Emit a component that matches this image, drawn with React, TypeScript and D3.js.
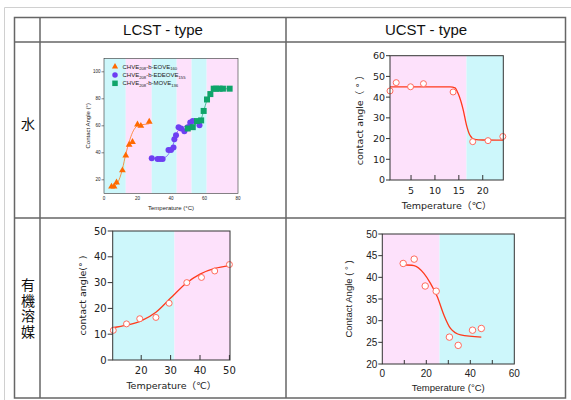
import React from "react";
import * as d3 from "d3";

const CYAN = "#cdf7fb";
const PINK = "#fde1fb";

// 水 / LCST - type
const eoveTemp = [4.5, 6, 7.5, 11, 13, 15, 17, 20, 22, 27];
const eoveAngle = [15, 15, 18, 27, 38, 46, 48, 61, 60, 63];
const eoveFitTemp = [4, 7, 9, 11, 13, 15, 17, 19, 21, 24, 27];
const eoveFitAngle = [14.5, 16, 20, 28, 39, 48, 55, 59, 60.5, 61, 61.5];
const edeoveTemp = [28.5, 32, 33.5, 35, 38.5, 40, 41.5, 42, 43, 44.5, 46, 48, 50, 51.5, 53, 57];
const edeoveAngle = [36, 35.5, 35.5, 35.5, 42, 42, 44, 50, 53, 59, 58, 56, 59, 62.5, 63.5, 60.5];
const edeoveFitTemp = [28.5, 34, 37, 39, 41, 42.5, 44, 46, 49, 52, 55];
const edeoveFitAngle = [36, 36, 37, 40, 45, 51, 56, 58, 60, 62, 63];
const moveTemp = [50, 53, 55.5, 58, 59.5, 61.5, 63.5, 65.5, 67, 69, 71, 75];
const moveAngle = [58, 59, 63.5, 64, 71, 79.5, 83.5, 87.5, 87.5, 87.5, 87.5, 87.5];
const moveFitTemp = [50, 53, 56, 58, 59.5, 61.5, 63.5, 65.5, 75];
const moveFitAngle = [58, 59.5, 62.5, 65, 71, 79, 84, 87, 87.5];
const lcstWaterBands = [0, 13, 28.5, 43.4, 52.3, 61.3, 80];
const legendNames = [
  ["CHVE", "208", "-b-EOVE", "160"],
  ["CHVE", "208", "-b-EDEOVE", "155"],
  ["CHVE", "208", "-b-MOVE", "136"],
];

// 水 / UCST - type
const ucstWaterTemp = [0.6, 1.9, 4.9, 7.6, 13.8, 17.9, 21.1, 24.2];
const ucstWaterAngle = [43, 47, 45, 46.5, 42.5, 18.5, 19, 21];
const ucstWaterFitTemp = [0.6, 13.2, 14.2, 14.9, 15.9, 16.6, 17.3, 18.3, 20, 24.3];
const ucstWaterFitAngle = [45, 45, 44.5, 41.5, 34, 26.5, 21.7, 19.6, 19.3, 19.2];
const ucstWaterBands = [0.6, 16.6, 24.3];

// 有機溶媒 / LCST - type
const lcstOrgTemp = [10.5, 15, 19.5, 25, 29.5, 35.5, 40.5, 45, 50];
const lcstOrgAngle = [11.5, 14, 16, 16.5, 22, 30, 32, 34.5, 37];
const lcstOrgFitTemp = [10.3, 15, 20, 25, 30, 35, 40, 45, 50];
const lcstOrgFitAngle = [12.5, 13.5, 15.2, 18.5, 24, 29.5, 33.3, 35.5, 36.6];
const lcstOrgBands = [10.3, 31.3, 50.2];

// 有機溶媒 / UCST - type
const ucstOrgTemp = [9.5, 14.5, 19.5, 24.5, 30.5, 34.5, 41, 45];
const ucstOrgAngle = [43.2, 44.2, 38, 36.8, 26.2, 24.3, 27.8, 28.2];
const ucstOrgFitTemp = [9.3, 14.4, 18.9, 21.9, 25, 28, 31, 35.6, 45];
const ucstOrgFitAngle = [42.9, 42.7, 40.9, 38.6, 35.5, 31.3, 28.2, 26.7, 26.2];
const ucstOrgBands = [0, 26, 60];

type Series = {
  x: number[];
  y: number[];
  fitX: number[];
  fitY: number[];
  marker: "tri" | "dot" | "square" | "open";
  color: string;
  fitColor: string;
  fitWidth: number;
};

type PanelProps = {
  box: [number, number, number, number]; // left, right, top, bottom
  xDomain: [number, number];
  yDomain: [number, number];
  xTicks: number[];
  xLabels: number[];
  yTicks: number[];
  bands: number[];
  firstBand: string;
  series: Series[];
  font: string;
  tickFont: number;
  labelFont: number;
  yTickLen: number;
  xTickLen: number;
  xTickGap: number;
  yLabel: string;
  yLabelX: number;
  xLabel: string;
  xLabelY: number;
  frameWidth: number;
  markerSize: number;
};

const Marker = ({ kind, x, y, color, size }: { kind: string; x: number; y: number; color: string; size: number }) => {
  if (kind === "tri") {
    const p = d3.symbol(d3.symbolTriangle, size * size * 0.55)();
    return <path d={p || ""} transform={`translate(${x},${y})`} fill={color} />;
  }
  if (kind === "square") {
    return <rect x={x - size / 2} y={y - size / 2} width={size} height={size} fill={color} />;
  }
  if (kind === "dot") {
    return <circle cx={x} cy={y} r={size / 2} fill={color} />;
  }
  return <circle cx={x} cy={y} r={size / 2} fill="#fff" stroke={color} strokeWidth={1} />;
};

const Panel = (p: PanelProps) => {
  const [l, r, t, b] = p.box;
  const x = d3.scaleLinear().domain(p.xDomain).range([l, r]);
  const y = d3.scaleLinear().domain(p.yDomain).range([b, t]);
  const other = p.firstBand === CYAN ? PINK : CYAN;

  return (
    <g fontFamily={p.font}>
      {p.bands.slice(0, -1).map((s, i) => (
        <rect
          key={i}
          x={x(s)}
          y={t}
          width={x(p.bands[i + 1]) - x(s)}
          height={b - t}
          fill={i % 2 === 0 ? p.firstBand : other}
        />
      ))}
      {p.series.map((s, i) => {
        const pts = s.fitX.map((v, j) => [x(v), y(s.fitY[j])] as [number, number]);
        const d = d3.line().curve(d3.curveMonotoneX)(pts);
        return <path key={i} d={d || ""} fill="none" stroke={s.fitColor} strokeWidth={s.fitWidth} />;
      })}
      {p.series.map((s, i) => (
        <g key={i}>
          {s.x.map((v, j) => (
            <Marker key={j} kind={s.marker} x={x(v)} y={y(s.y[j])} color={s.color} size={p.markerSize} />
          ))}
        </g>
      ))}
      <rect x={l} y={t} width={r - l} height={b - t} fill="none" stroke="#333" strokeWidth={p.frameWidth} />
      {p.yTicks.map((v) => (
        <g key={v}>
          <line x1={l - p.yTickLen} x2={l} y1={y(v)} y2={y(v)} stroke="#333" strokeWidth={p.frameWidth} />
          <text
            x={l - p.yTickLen - 1}
            y={y(v)}
            dy="0.36em"
            textAnchor="end"
            fontSize={p.tickFont}
            fill="#222"
          >
            {v}
          </text>
        </g>
      ))}
      {p.xTicks.map((v) => (
        <line key={v} x1={x(v)} x2={x(v)} y1={b} y2={b - p.xTickLen} stroke="#333" strokeWidth={p.frameWidth} />
      ))}
      {p.xLabels.map((v) => (
        <text key={v} x={x(v)} y={b + p.xTickGap} textAnchor="middle" fontSize={p.tickFont} fill="#222">
          {v}
        </text>
      ))}
      <text
        transform={`translate(${p.yLabelX},${(t + b) / 2}) rotate(-90)`}
        textAnchor="middle"
        fontSize={p.labelFont}
        fill="#222"
      >
        {p.yLabel}
      </text>
      <text x={(l + r) / 2} y={p.xLabelY} textAnchor="middle" fontSize={p.labelFont} fill="#222">
        {p.xLabel}
      </text>
    </g>
  );
};

const LCST_ORANGE = "#ff6a00";
const PURPLE = "#6d3ff2";
const GREEN = "#0fa46a";
const RED = "#ff3a1c";
const OPEN = "#ff6b5e";

export default function App() {
  const sans = "'Liberation Sans', Arial, 'Noto Sans CJK JP', sans-serif";
  const dv = "'DejaVu Sans', 'Noto Sans CJK JP', sans-serif";
  const grid = "#666";
  return (
    <svg width={571} height={400} style={{ position: "absolute", left: 0, top: 0 }}>
      <rect x={0} y={0} width={571} height={400} fill="#fff" />
      <line x1={4.5} x2={571} y1={7.5} y2={7.5} stroke="#d0d0d0" />
      <line x1={4.5} x2={4.5} y1={7.5} y2={400} stroke="#d0d0d0" />

      {/* table */}
      <g stroke={grid} strokeWidth={1.5} fill="none">
        <rect x={14.5} y={17.5} width={551} height={380.5} />
        <line x1={14.5} x2={565.5} y1={42} y2={42} />
        <line x1={14.5} x2={565.5} y1={218} y2={218} />
        <line x1={40} x2={40} y1={17.5} y2={398} />
        <line x1={286} x2={286} y1={17.5} y2={398} />
      </g>
      <g fontFamily={sans} fontSize={15} fill="#111" textAnchor="middle">
        <text x={163} y={35}>LCST - type</text>
        <text x={426} y={35}>UCST - type</text>
      </g>
      <g fontFamily="'Noto Sans CJK JP', sans-serif" fontSize={14} fill="#111">
        <text x={28} y={129} textAnchor="middle">水</text>
        <text x={28} y={278} style={{ writingMode: "vertical-rl" }} letterSpacing={1.5}>
          有機溶媒
        </text>
      </g>

      <Panel
        box={[104, 238, 58.3, 193.3]}
        xDomain={[0, 80]}
        yDomain={[10, 110]}
        xTicks={[0, 20, 40, 60, 80]}
        xLabels={[0, 20, 40, 60, 80]}
        yTicks={[20, 40, 60, 80, 100]}
        bands={lcstWaterBands}
        firstBand={CYAN}
        series={[
          { x: eoveTemp, y: eoveAngle, fitX: eoveFitTemp, fitY: eoveFitAngle, marker: "tri", color: LCST_ORANGE, fitColor: LCST_ORANGE, fitWidth: 0.7 },
          { x: edeoveTemp, y: edeoveAngle, fitX: edeoveFitTemp, fitY: edeoveFitAngle, marker: "dot", color: PURPLE, fitColor: PURPLE, fitWidth: 0.7 },
          { x: moveTemp, y: moveAngle, fitX: moveFitTemp, fitY: moveFitAngle, marker: "square", color: GREEN, fitColor: GREEN, fitWidth: 0.7 },
        ]}
        font={sans}
        tickFont={4.5}
        labelFont={6}
        yTickLen={2.5}
        xTickLen={0}
        xTickGap={6.5}
        yLabel="Contact Angle (°)"
        yLabelX={90}
        xLabel="Temperature (°C)"
        xLabelY={210}
        frameWidth={0.6}
        markerSize={6}
      />
      <g fontFamily={sans} fill="#222">
        {legendNames.map((n, i) => (
          <g key={i}>
            <Marker
              kind={["tri", "dot", "square"][i]}
              x={115}
              y={66.7 + i * 8.3}
              color={[LCST_ORANGE, PURPLE, GREEN][i]}
              size={5.5}
            />
            <text x={122.5} y={68.8 + i * 8.3} fontSize={6}>
              {n[0]}
              <tspan fontSize={4.2} dy={1.5}>{n[1]}</tspan>
              <tspan dy={-1.5}>{n[2]}</tspan>
              <tspan fontSize={4.2} dy={1.5}>{n[3]}</tspan>
            </text>
          </g>
        ))}
      </g>

      <Panel
        box={[390, 503.3, 55.7, 180]}
        xDomain={[0.6, 24.3]}
        yDomain={[0, 60]}
        xTicks={[5, 10, 15, 20]}
        xLabels={[5, 10, 15, 20]}
        yTicks={[0, 10, 20, 30, 40, 50, 60]}
        bands={ucstWaterBands}
        firstBand={PINK}
        series={[
          { x: ucstWaterTemp, y: ucstWaterAngle, fitX: ucstWaterFitTemp, fitY: ucstWaterFitAngle, marker: "open", color: OPEN, fitColor: RED, fitWidth: 1.3 },
        ]}
        font={dv}
        tickFont={9.5}
        labelFont={9.5}
        yTickLen={4}
        xTickLen={5}
        xTickGap={14}
        yLabel="contact angle（ ° ）"
        yLabelX={363}
        xLabel="Temperature（℃）"
        xLabelY={209}
        frameWidth={1}
        markerSize={6}
      />

      <Panel
        box={[112.7, 230, 231, 360]}
        xDomain={[10.3, 50.2]}
        yDomain={[0, 50]}
        xTicks={[20, 30, 40, 50]}
        xLabels={[20, 30, 40, 50]}
        yTicks={[0, 10, 20, 30, 40, 50]}
        bands={lcstOrgBands}
        firstBand={CYAN}
        series={[
          { x: lcstOrgTemp, y: lcstOrgAngle, fitX: lcstOrgFitTemp, fitY: lcstOrgFitAngle, marker: "open", color: OPEN, fitColor: RED, fitWidth: 1.3 },
        ]}
        font={dv}
        tickFont={10}
        labelFont={9.5}
        yTickLen={5}
        xTickLen={5}
        xTickGap={14}
        yLabel="contact angle(° )"
        yLabelX={86}
        xLabel="Temperature（℃）"
        xLabelY={389}
        frameWidth={1}
        markerSize={6}
      />

      <Panel
        box={[382.3, 514.3, 234, 364]}
        xDomain={[0, 60]}
        yDomain={[20, 50]}
        xTicks={[10, 20, 30, 40, 50]}
        xLabels={[0, 20, 40, 60]}
        yTicks={[20, 25, 30, 35, 40, 45, 50]}
        bands={ucstOrgBands}
        firstBand={PINK}
        series={[
          { x: ucstOrgTemp, y: ucstOrgAngle, fitX: ucstOrgFitTemp, fitY: ucstOrgFitAngle, marker: "open", color: OPEN, fitColor: RED, fitWidth: 1.3 },
        ]}
        font={sans}
        tickFont={10}
        labelFont={9.5}
        yTickLen={4}
        xTickLen={4}
        xTickGap={13}
        yLabel="Contact Angle ( ° )"
        yLabelX={352}
        xLabel="Temperature (°C)"
        xLabelY={391}
        frameWidth={1}
        markerSize={6.5}
      />
    </svg>
  );
}
